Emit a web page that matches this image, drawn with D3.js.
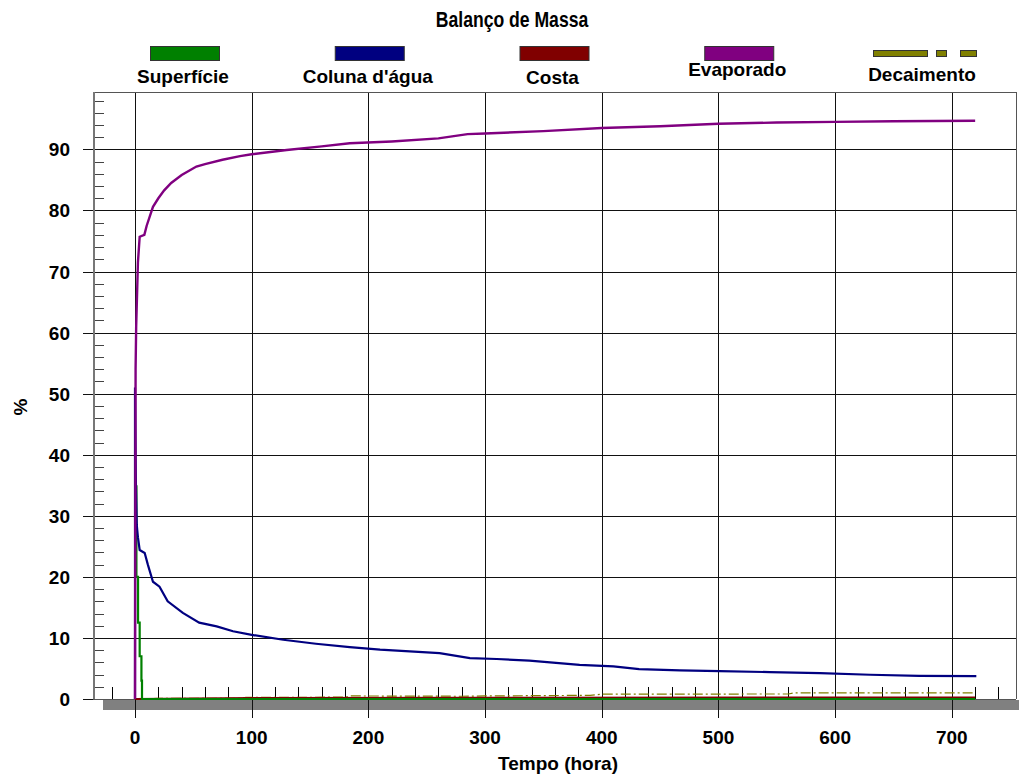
<!DOCTYPE html>
<html>
<head>
<meta charset="utf-8">
<script src="https://cdn.jsdelivr.net/npm/d3@7"></script>
<style>
  body { margin: 0; background: #fff; }
  text { font-family: "Liberation Sans", Arial, sans-serif; font-weight: bold; fill: #000; }
</style>
</head>
<body>
<div id="chart"></div>
<script>
'use strict';

// series, [hora, %]
var superficie = [[1.2, 35], [1.2, 20], [2.6, 20], [2.6, 12.5], [4, 12.5], [4, 7], [5.5, 7], [5.5, 3], [6, 3], [6, 0], [720, 0]];
var coluna = [[0, 0], [0, 51], [0.8, 35], [1.5, 28.5], [2.5, 26.5], [4, 24.4], [8.3, 23.9], [11, 22], [15.4, 19.2],
  [21, 18.4], [28, 16], [41, 14.1], [55, 12.5], [70, 11.9], [84, 11.1], [100, 10.5], [127, 9.7], [155, 9.05],
  [184, 8.5], [210, 8.07], [261, 7.5], [287, 6.7], [310, 6.55], [338, 6.27], [381, 5.6], [410, 5.33], [432, 4.9],
  [467, 4.68], [501, 4.58], [544, 4.4], [587, 4.25], [630, 3.97], [672, 3.8], [721, 3.76]];
var costa = [[0, 0], [100, 0.15], [300, 0.2], [720, 0.25]];
var evaporado = [[0, 0], [0.5, 54], [1, 61], [2.5, 71.5], [4, 75.7], [8, 76], [10, 77.5], [15.4, 80.6], [20, 82],
  [25, 83.3], [31, 84.5], [40, 85.8], [52.6, 87.2], [60, 87.6], [75, 88.3], [90, 88.9], [100, 89.2], [130, 89.9],
  [160, 90.5], [184, 91.0], [220, 91.3], [260, 91.8], [285, 92.5], [300, 92.6], [350, 93], [400, 93.5],
  [450, 93.8], [500, 94.2], [550, 94.4], [600, 94.5], [650, 94.6], [720, 94.7]];
var decaimento = [[0, 0], [20, 0.1], [90, 0.12], [95, 0.26], [180, 0.3], [185, 0.5], [280, 0.45], [300, 0.5],
  [390, 0.6], [400, 0.8], [560, 0.82], [565, 1.0], [720, 1.0]];

var legendNames = ['Superfície', 'Coluna d\'água', 'Costa', 'Evaporado', 'Decaimento'];
var legendColors = ['#008000', '#000080', '#800000', '#800080', '#808000'];
var legendDy = [0, 0, 1, -7, -2];

var xMajor = [0, 100, 200, 300, 400, 500, 600, 700];
var yMajor = [0, 10, 20, 30, 40, 50, 60, 70, 80, 90];

var W = 1019, H = 776;
var L = 93, R = 1016, T = 92, B = 699;

var x = d3.scaleLinear().domain([-36, 755]).range([L, R]);
var y = d3.scaleLinear().domain([0, 99.4]).range([B, T]);

var svg = d3.select('#chart').append('svg')
  .attr('width', W)
  .attr('height', H);

svg.append('defs').append('clipPath')
  .attr('id', 'plot-clip')
  .append('rect')
  .attr('x', L).attr('y', T)
  .attr('width', R - L).attr('height', B - T + 1);

// title (slightly condensed like the original)
svg.append('text')
  .attr('transform', 'translate(512,27) scale(0.88,1.08)')
  .attr('text-anchor', 'middle')
  .attr('font-size', '20px')
  .text('Balanço de Massa');

// legend
var lx = d3.scalePoint().domain(legendNames).range([185, 924]);
var legend = svg.append('g');
legendNames.forEach(function (name, i) {
  var cx = lx(name);
  if (name === 'Decaimento') {
    [[-51, 54], [12, 10], [36, 16]].forEach(function (d) {
      legend.append('rect')
        .attr('x', cx + d[0] + 0.5).attr('y', 50.5)
        .attr('width', d[1]).attr('height', 6)
        .attr('fill', legendColors[i])
        .attr('stroke', '#333').attr('stroke-width', 1);
    });
  } else {
    legend.append('rect')
      .attr('x', cx - 35 + 0.5).attr('y', 46.5)
      .attr('width', 69).attr('height', 14)
      .attr('fill', legendColors[i])
      .attr('stroke', '#333').attr('stroke-width', 1);
  }
  legend.append('text')
    .attr('x', cx - 2).attr('y', 83 + legendDy[i])
    .attr('text-anchor', 'middle')
    .attr('font-size', '19px')
    .text(name);
});

// gray base under the x axis
svg.append('rect')
  .attr('x', 103).attr('y', 700)
  .attr('width', W - 103).attr('height', 10)
  .attr('fill', '#808080');

var grid = svg.append('g').attr('shape-rendering', 'crispEdges');

// minor ticks
d3.range(-20, 741, 20).filter(function (d) { return d % 100 !== 0; }).forEach(function (d) {
  grid.append('line')
    .attr('x1', Math.round(x(d)) + 0.5).attr('x2', Math.round(x(d)) + 0.5)
    .attr('y1', B).attr('y2', B - 12)
    .attr('stroke', '#000');
});
d3.range(2, 99, 2).filter(function (d) { return d % 10 !== 0; }).forEach(function (d) {
  grid.append('line')
    .attr('x1', L).attr('x2', L + 11)
    .attr('y1', Math.round(y(d)) + 0.5).attr('y2', Math.round(y(d)) + 0.5)
    .attr('stroke', '#444');
});

// major grid lines
xMajor.forEach(function (d) {
  grid.append('line')
    .attr('x1', Math.round(x(d)) + 0.5).attr('x2', Math.round(x(d)) + 0.5)
    .attr('y1', T).attr('y2', 718)
    .attr('stroke', '#111');
});
yMajor.forEach(function (d) {
  grid.append('line')
    .attr('x1', 83).attr('x2', R)
    .attr('y1', Math.round(y(d)) + 0.5).attr('y2', Math.round(y(d)) + 0.5)
    .attr('stroke', '#111');
});

// frame
grid.append('line').attr('x1', L).attr('x2', R).attr('y1', T + 0.5).attr('y2', T + 0.5).attr('stroke', '#555');
grid.append('line').attr('x1', R + 0.5).attr('x2', R + 0.5).attr('y1', T).attr('y2', B).attr('stroke', '#555');
grid.append('line').attr('x1', L + 0.5).attr('x2', L + 0.5).attr('y1', T).attr('y2', B + 1)
  .attr('stroke', '#777').attr('stroke-width', 2);
grid.append('line').attr('x1', L).attr('x2', R).attr('y1', B + 0.5).attr('y2', B + 0.5).attr('stroke', '#555');

// tick labels
svg.append('g').selectAll('text')
  .data(yMajor).enter().append('text')
  .attr('x', 70).attr('y', function (d) { return y(d) + 7; })
  .attr('text-anchor', 'end')
  .attr('font-size', '19px')
  .text(function (d) { return d; });

svg.append('g').selectAll('text')
  .data(xMajor).enter().append('text')
  .attr('x', function (d) { return x(d); }).attr('y', 744)
  .attr('text-anchor', 'middle')
  .attr('font-size', '19px')
  .text(function (d) { return d; });

// axis titles
svg.append('text')
  .attr('x', 558).attr('y', 770)
  .attr('text-anchor', 'middle')
  .attr('font-size', '19px')
  .text('Tempo (hora)');

svg.append('text')
  .attr('transform', 'translate(27,407) rotate(-90)')
  .attr('text-anchor', 'middle')
  .attr('font-size', '19px')
  .text('%');

// series
var line = d3.line()
  .x(function (d) { return x(d[0]); })
  .y(function (d) { return y(d[1]); });

var plot = svg.append('g').attr('clip-path', 'url(#plot-clip)');

plot.append('path').datum(decaimento)
  .attr('d', line).attr('fill', 'none')
  .attr('stroke', '#808000').attr('stroke-width', 1.2)
  .attr('stroke-dasharray', '10,3,2,3');
plot.append('path').datum(costa)
  .attr('d', line).attr('fill', 'none')
  .attr('stroke', '#800000').attr('stroke-width', 2);
plot.append('path').datum(superficie)
  .attr('d', line).attr('fill', 'none')
  .attr('stroke', '#008000').attr('stroke-width', 2.2);
plot.append('path').datum(coluna)
  .attr('d', line).attr('fill', 'none')
  .attr('stroke', '#000080').attr('stroke-width', 2.2);
plot.append('path').datum(evaporado)
  .attr('d', line).attr('fill', 'none')
  .attr('stroke', '#800080').attr('stroke-width', 2.4);
</script>
</body>
</html>
